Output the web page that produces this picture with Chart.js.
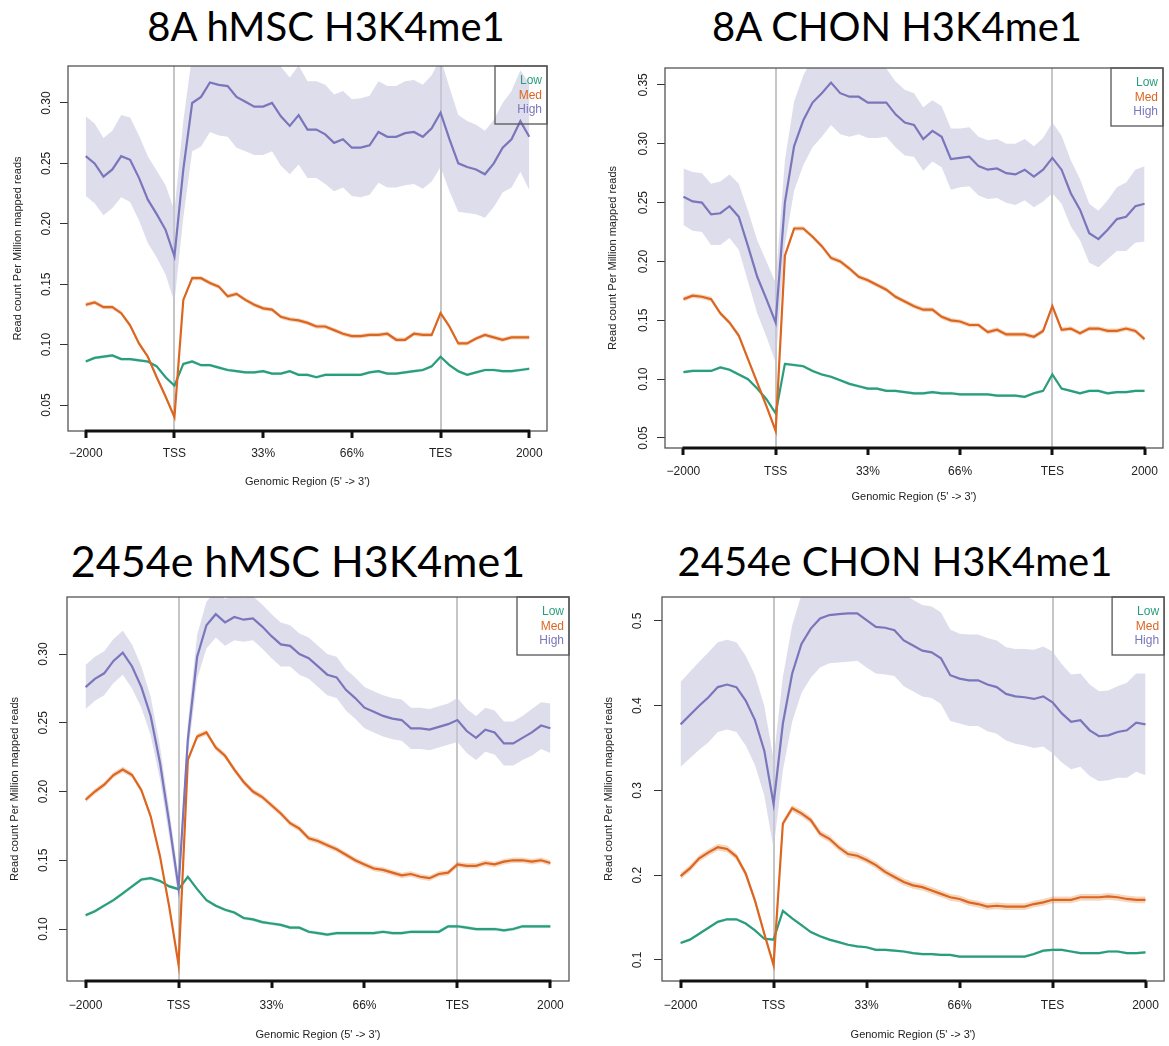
<!DOCTYPE html>
<html>
<head>
<meta charset="utf-8">
<title>H3K4me1 profiles</title>
<script src="https://cdn.jsdelivr.net/npm/chart.js@4.4.0/dist/chart.umd.min.js"></script>
<style>
  body { margin: 0; background: #fff; width: 1169px; height: 1046px; position: relative; overflow: hidden; }
  .panel { position: absolute; }
  .title { position: absolute; font-family: Lato, "Open Sans", sans-serif; font-size: 40px; line-height: 40px;
           white-space: nowrap; transform: translateX(-50%); color: #000; }
</style>
</head>
<body>
<div class="title" style="left:326px;top:6px">8A hMSC H3K4me1</div>
<div class="title" style="left:897px;top:6px">8A CHON H3K4me1</div>
<div class="title" style="left:298px;top:539px;font-size:43px;line-height:43px">2454e hMSC H3K4me1</div>
<div class="title" style="left:895px;top:541px">2454e CHON H3K4me1</div>

<div class="panel" style="left:0;top:0"><canvas id="p1" width="585" height="520"></canvas></div>
<div class="panel" style="left:585px;top:0"><canvas id="p2" width="584" height="520"></canvas></div>
<div class="panel" style="left:0;top:520px"><canvas id="p3" width="585" height="526"></canvas></div>
<div class="panel" style="left:585px;top:520px"><canvas id="p4" width="584" height="526"></canvas></div>

<script>
// bins along the meta-gene: 0 = -2000, 1 = TSS, 4 = TES, 5 = +2000
var binPos = [0,0.1,0.2,0.3,0.4,0.5,0.6,0.7,0.8,0.9,1,1.1,1.2,1.3,1.4,1.5,1.6,1.7,1.8,1.9,2,
  2.1,2.2,2.3,2.4,2.5,2.6,2.7,2.8,2.9,3,3.1,3.2,3.3,3.4,3.5,3.6,3.7,3.8,3.9,4,
  4.1,4.2,4.3,4.4,4.5,4.6,4.7,4.8,4.9,5];
var regionTicks = [0, 1, 2, 3, 4, 5];
var regionLabels = ["\u22122000", "TSS", "33%", "66%", "TES", "2000"];
var seriesNames = ["Low", "Med", "High"];

// 8A hMSC
var p1Low = [0.086,0.089,0.090,0.091,0.088,0.088,0.087,0.086,0.082,0.073,0.066,
  0.084,0.086,0.083,0.083,0.081,0.079,0.078,0.077,0.077,0.078,
  0.076,0.076,0.078,0.075,0.075,0.073,0.075,0.075,0.075,0.075,
  0.075,0.077,0.078,0.076,0.076,0.077,0.078,0.079,0.082,0.090,
  0.083,0.078,0.075,0.077,0.079,0.079,0.078,0.078,0.079,0.080];
var p1Med = [0.133,0.135,0.131,0.131,0.126,0.116,0.101,0.090,0.073,0.057,0.040,
  0.137,0.155,0.155,0.151,0.148,0.140,0.142,0.137,0.133,0.130,
  0.129,0.123,0.121,0.120,0.118,0.115,0.115,0.112,0.109,0.107,
  0.107,0.108,0.108,0.109,0.104,0.104,0.109,0.108,0.108,0.126,
  0.115,0.101,0.101,0.105,0.108,0.106,0.104,0.106,0.106,0.106];
var p1High = [0.256,0.250,0.239,0.245,0.256,0.253,0.238,0.220,0.208,0.195,0.173,
  0.245,0.300,0.305,0.317,0.315,0.314,0.305,0.301,0.297,0.297,
  0.300,0.289,0.281,0.290,0.278,0.278,0.274,0.267,0.270,0.263,
  0.263,0.265,0.276,0.272,0.272,0.275,0.276,0.272,0.279,0.292,
  0.270,0.250,0.247,0.245,0.241,0.250,0.263,0.270,0.285,0.272];
var p1HighSE = [0.033,0.033,0.032,0.032,0.034,0.035,0.035,0.036,0.036,0.037,0.038,
  0.040,0.040,0.041,0.041,0.042,0.042,0.042,0.041,0.040,0.040,
  0.040,0.041,0.040,0.041,0.040,0.040,0.041,0.040,0.040,0.040,
  0.041,0.041,0.042,0.042,0.042,0.043,0.043,0.043,0.044,0.045,
  0.043,0.040,0.038,0.037,0.036,0.036,0.037,0.040,0.042,0.044];
var p1YTicks = [0.05, 0.10, 0.15, 0.20, 0.25, 0.30];

// 8A CHON
var p2Low = [0.106,0.107,0.107,0.107,0.110,0.108,0.104,0.100,0.092,0.083,0.071,
  0.113,0.112,0.111,0.107,0.104,0.102,0.099,0.096,0.094,0.092,
  0.092,0.090,0.090,0.089,0.088,0.088,0.089,0.088,0.088,0.087,
  0.087,0.087,0.087,0.086,0.086,0.086,0.085,0.088,0.090,0.104,
  0.092,0.090,0.088,0.090,0.090,0.088,0.089,0.089,0.090,0.090];
var p2Med = [0.168,0.171,0.170,0.168,0.156,0.148,0.137,0.117,0.097,0.077,0.056,
  0.205,0.228,0.228,0.221,0.213,0.203,0.200,0.194,0.187,0.184,
  0.180,0.176,0.170,0.166,0.162,0.159,0.159,0.153,0.150,0.149,
  0.146,0.146,0.140,0.142,0.138,0.138,0.138,0.136,0.141,0.162,
  0.142,0.143,0.139,0.143,0.143,0.141,0.141,0.143,0.141,0.134];
var p2High = [0.255,0.251,0.250,0.240,0.241,0.247,0.238,0.213,0.187,0.168,0.148,
  0.250,0.298,0.320,0.335,0.343,0.352,0.343,0.340,0.340,0.335,
  0.335,0.335,0.325,0.318,0.316,0.304,0.311,0.306,0.287,0.288,
  0.289,0.281,0.278,0.279,0.275,0.274,0.278,0.272,0.278,0.288,
  0.278,0.258,0.244,0.224,0.219,0.227,0.236,0.238,0.247,0.249];
var p2HighSE = [0.024,0.025,0.025,0.026,0.027,0.027,0.028,0.030,0.031,0.032,0.034,
  0.036,0.038,0.038,0.038,0.037,0.036,0.035,0.034,0.032,0.030,
  0.030,0.029,0.028,0.028,0.027,0.027,0.026,0.026,0.026,0.025,
  0.025,0.025,0.025,0.025,0.025,0.026,0.026,0.026,0.027,0.030,
  0.029,0.028,0.026,0.025,0.024,0.025,0.027,0.029,0.031,0.032];
var p2YTicks = [0.05, 0.10, 0.15, 0.20, 0.25, 0.30, 0.35];

// 2454e hMSC
var p3Low = [0.110,0.113,0.117,0.121,0.126,0.131,0.136,0.137,0.135,0.131,0.129,
  0.138,0.129,0.121,0.117,0.114,0.112,0.108,0.107,0.105,0.104,
  0.103,0.101,0.101,0.098,0.097,0.096,0.097,0.097,0.097,0.097,
  0.097,0.098,0.097,0.097,0.098,0.098,0.098,0.098,0.102,0.102,
  0.101,0.100,0.100,0.100,0.099,0.100,0.102,0.102,0.102,0.102];
var p3Med = [0.194,0.200,0.205,0.212,0.216,0.212,0.201,0.182,0.153,0.116,0.074,
  0.223,0.240,0.243,0.232,0.226,0.216,0.207,0.200,0.196,0.190,
  0.184,0.177,0.173,0.166,0.164,0.161,0.158,0.154,0.150,0.147,
  0.144,0.143,0.141,0.139,0.140,0.138,0.137,0.140,0.141,0.147,
  0.146,0.146,0.148,0.147,0.149,0.150,0.150,0.149,0.150,0.148];
var p3High = [0.276,0.282,0.286,0.295,0.301,0.291,0.276,0.255,0.221,0.177,0.130,
  0.238,0.298,0.321,0.329,0.323,0.327,0.325,0.326,0.320,0.313,
  0.307,0.306,0.300,0.297,0.291,0.285,0.283,0.274,0.268,0.261,
  0.258,0.255,0.253,0.252,0.246,0.246,0.245,0.247,0.249,0.252,
  0.244,0.239,0.245,0.243,0.235,0.235,0.239,0.243,0.248,0.246];
var p3HighSE = [0.016,0.016,0.016,0.016,0.016,0.016,0.015,0.014,0.012,0.010,0.008,
  0.012,0.016,0.017,0.017,0.017,0.017,0.016,0.016,0.016,0.016,
  0.016,0.015,0.015,0.015,0.015,0.015,0.015,0.015,0.015,0.015,
  0.015,0.015,0.015,0.015,0.015,0.015,0.015,0.015,0.015,0.016,
  0.016,0.016,0.016,0.016,0.016,0.016,0.016,0.017,0.017,0.018];
var p3YTicks = [0.10, 0.15, 0.20, 0.25, 0.30];

// 2454e CHON
var p4Low = [0.120,0.124,0.131,0.138,0.145,0.148,0.148,0.143,0.135,0.125,0.124,
  0.158,0.149,0.141,0.133,0.128,0.124,0.121,0.118,0.116,0.115,
  0.112,0.112,0.111,0.110,0.108,0.107,0.107,0.106,0.106,0.104,
  0.104,0.104,0.104,0.104,0.104,0.104,0.104,0.107,0.111,0.112,
  0.112,0.110,0.108,0.108,0.108,0.110,0.110,0.108,0.108,0.109];
var p4Med = [0.199,0.208,0.220,0.227,0.233,0.231,0.222,0.202,0.170,0.131,0.094,
  0.261,0.279,0.273,0.265,0.249,0.243,0.233,0.225,0.223,0.218,
  0.212,0.204,0.198,0.192,0.188,0.186,0.182,0.178,0.174,0.172,
  0.168,0.166,0.163,0.164,0.163,0.163,0.163,0.166,0.168,0.171,
  0.171,0.171,0.174,0.174,0.174,0.175,0.174,0.172,0.171,0.171];
var p4High = [0.378,0.389,0.400,0.410,0.422,0.425,0.422,0.406,0.383,0.347,0.284,
  0.379,0.438,0.473,0.491,0.503,0.507,0.508,0.509,0.509,0.501,
  0.493,0.492,0.489,0.477,0.471,0.465,0.463,0.456,0.436,0.432,
  0.430,0.430,0.425,0.422,0.414,0.411,0.410,0.408,0.411,0.404,
  0.391,0.381,0.383,0.371,0.364,0.365,0.369,0.371,0.380,0.378];
var p4HighSE = [0.050,0.051,0.052,0.053,0.053,0.053,0.053,0.053,0.053,0.053,0.053,
  0.055,0.057,0.058,0.058,0.058,0.057,0.057,0.057,0.056,0.056,
  0.055,0.055,0.054,0.054,0.054,0.054,0.054,0.054,0.054,0.053,
  0.054,0.054,0.055,0.055,0.055,0.056,0.057,0.058,0.059,0.060,
  0.058,0.056,0.055,0.054,0.053,0.053,0.054,0.056,0.058,0.060];
var p4YTicks = [0.1, 0.2, 0.3, 0.4, 0.5];

// thin error bands of Low / Med, read roughly per panel
var lowSE = [0.0012, 0.0012, 0.0012, 0.0015];
var medSE = [0.0018, 0.0020, 0.0020, 0.0040];

Chart.defaults.font.family = "'Liberation Sans', Arial, sans-serif";
Chart.defaults.color = "#222";

var lineColors = ["#2a9e7c", "#dc6620", "#7a76bb"];
var bandColors = ["rgba(27,158,119,0.25)", "rgba(217,95,2,0.25)", "rgba(200,200,225,0.62)"];

function pts(mean) {
  return mean.map(function (v, i) { return { x: binPos[i], y: v }; });
}
function edge(mean, se, sign) {
  return mean.map(function (v, i) {
    var s = Array.isArray(se) ? se[i] : se;
    return { x: binPos[i], y: v + sign * s };
  });
}

// box around plot, thick axis line from -2000 to 2000, legend top right
var frame = {
  id: "frame",
  afterDraw: function (chart) {
    var a = chart.chartArea, ctx = chart.ctx, xs = chart.scales.x;
    ctx.save();
    ctx.strokeStyle = "#555";
    ctx.lineWidth = 1.3;
    ctx.strokeRect(a.left, a.top, a.right - a.left, a.bottom - a.top);
    ctx.strokeStyle = "#111";
    ctx.lineWidth = 3;
    ctx.beginPath();
    ctx.moveTo(xs.getPixelForValue(regionTicks[0]) - 1, a.bottom);
    ctx.lineTo(xs.getPixelForValue(regionTicks[regionTicks.length - 1]) + 1, a.bottom);
    ctx.stroke();

    var w = 52, h = 58;
    ctx.strokeStyle = "#555";
    ctx.lineWidth = 1.3;
    ctx.strokeRect(a.right - w, a.top, w, h);
    ctx.font = "12px 'Liberation Sans', Arial, sans-serif";
    ctx.textAlign = "right";
    ctx.textBaseline = "middle";
    seriesNames.forEach(function (name, i) {
      ctx.fillStyle = lineColors[i];
      ctx.fillText(name, a.right - 5, a.top + 15 + i * 14.5);
    });
    ctx.restore();
  }
};

function profile(id, low, med, high, highSE, k, yTicks, dec, L) {
  var lineDs = function (label, data, i) {
    return { label: label, data: pts(data), borderColor: lineColors[i], borderWidth: 2.2,
      pointRadius: 0, tension: 0, fill: false };
  };
  var bandDs = function (data, se, sign, i) {
    return { label: "", data: edge(data, se, sign), borderWidth: 0, pointRadius: 0, tension: 0,
      backgroundColor: bandColors[i], fill: sign > 0 ? "+1" : false };
  };
  new Chart(document.getElementById(id), {
    type: "line",
    data: {
      datasets: [
        lineDs("High", high, 2),
        lineDs("Med", med, 1),
        lineDs("Low", low, 0),
        bandDs(high, highSE, 1, 2), bandDs(high, highSE, -1, 2),
        bandDs(med, medSE[k], 1, 1), bandDs(med, medSE[k], -1, 1),
        bandDs(low, lowSE[k], 1, 0), bandDs(low, lowSE[k], -1, 0)
      ]
    },
    options: {
      responsive: false,
      animation: false,
      devicePixelRatio: 1,
      layout: { padding: { left: 0, top: L.top, right: L.right, bottom: 0 } },
      plugins: { legend: { display: false }, tooltip: { enabled: false } },
      scales: {
        x: {
          type: "linear", min: -0.2, max: 5.2,
          afterBuildTicks: function (s) { s.ticks = regionTicks.map(function (v) { return { value: v }; }); },
          afterFit: function (s) { s.height = L.xh; },
          ticks: { autoSkip: false, maxRotation: 0, padding: L.xpad, font: { size: 12 },
            callback: function (v, i) { return regionLabels[i]; } },
          grid: {
            color: function (c) {
              return c.tick && (c.tick.value === 1 || c.tick.value === 4) ? "#c6c6c6" : "rgba(0,0,0,0)";
            },
            lineWidth: 2, tickLength: 7, tickWidth: 3, tickColor: "#111"
          },
          border: { display: false },
          title: { display: true, text: "Genomic Region (5' -> 3')", font: { size: 11 },
            padding: { top: 0, bottom: L.xtitle } }
        },
        y: {
          min: L.ymin, max: L.ymax,
          afterBuildTicks: function (s) { s.ticks = yTicks.map(function (v) { return { value: v }; }); },
          afterFit: function (s) { s.width = L.yw; },
          ticks: { minRotation: 90, maxRotation: 90, crossAlign: "center", padding: L.ypad, font: { size: 12 },
            callback: function (v) { return v.toFixed(dec); } },
          grid: { drawOnChartArea: false, tickLength: 8, tickColor: "#333", lineWidth: 1 },
          border: { display: false },
          title: { display: true, text: "Read count Per Million mapped reads", font: { size: 11 },
            padding: { top: L.ytitle, bottom: 0 } }
        }
      }
    },
    plugins: [frame]
  });
}

profile("p1", p1Low, p1Med, p1High, p1HighSE, 0, p1YTicks, 2,
  { top: 66, right: 38, xh: 89, yw: 68, ymin: 0.0285, ymax: 0.3306, ypad: 1.5, ytitle: 11.4, xpad: 8, xtitle: 31.4 });
profile("p2", p2Low, p2Med, p2High, p2HighSE, 1, p2YTicks, 2,
  { top: 68, right: 6, xh: 72, yw: 80, ymin: 0.0415, ymax: 0.3644, ypad: 1.5, ytitle: 21.4, xpad: 9, xtitle: 16.4 });
profile("p3", p3Low, p3Med, p3High, p3HighSE, 2, p3YTicks, 2,
  { top: 77, right: 16, xh: 65, yw: 67, ymin: 0.0622, ymax: 0.3415, ypad: 3.3, ytitle: 8.4, xpad: 10, xtitle: 4.4 });
profile("p4", p4Low, p4Med, p4High, p4HighSE, 3, p4YTicks, 1,
  { top: 77, right: 4, xh: 65, yw: 77, ymin: 0.0752, ymax: 0.5283, ypad: 7.5, ytitle: 17.4, xpad: 10, xtitle: 4.4 });
</script>
</body>
</html>
